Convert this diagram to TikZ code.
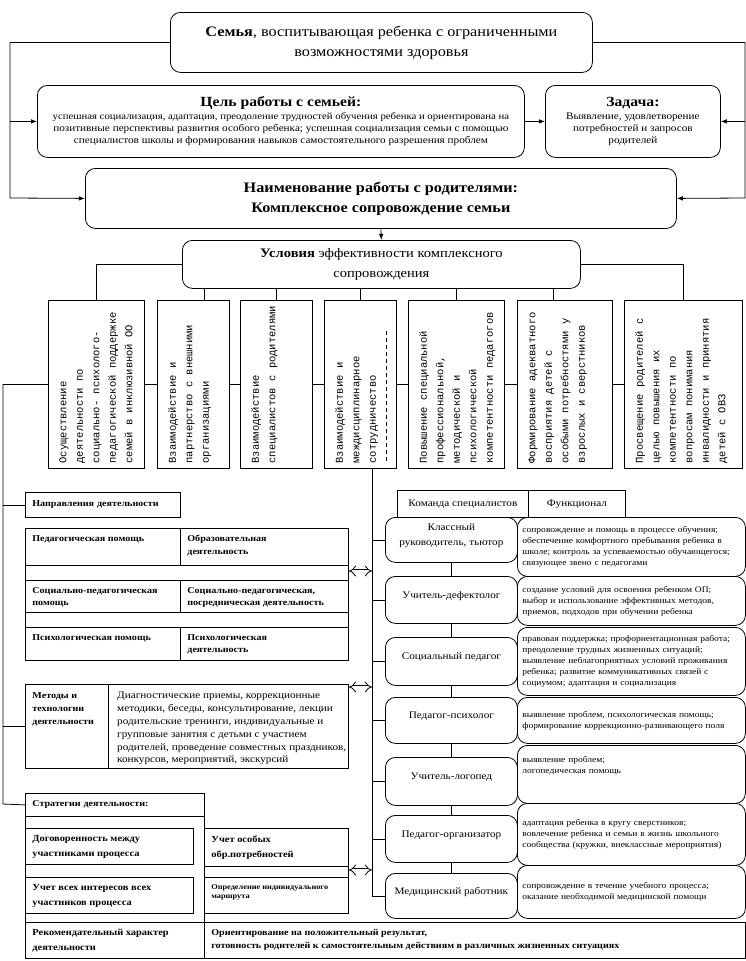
\documentclass[tikz,border=0pt]{standalone}
\usepackage{fontspec}
\setmainfont[FakeStretch=1.12]{Liberation Serif}
\newfontfamily\colfont{Liberation Mono}
\usetikzlibrary{arrows.meta}

\tikzset{
  rbox/.style={draw, rounded corners=10pt, anchor=north west, align=center, inner sep=3pt},
  sqbox/.style={draw, anchor=north west, inner sep=0pt},
  colbox/.style={draw, anchor=north west, minimum height=168, inner sep=0pt},
  coltext/.style={rotate=90, anchor=north west, align=left, inner xsep=5pt, inner ysep=11pt,
    font=\colfont\fontsize{10.5}{16.5}\selectfont},
  celltext/.style={anchor=north west, align=left, inner xsep=7pt, inner ysep=7pt,
    font=\fontsize{9}{12.5}\selectfont\bfseries},
  strattext/.style={celltext, font=\fontsize{9.3}{15}\selectfont\bfseries},
  headtext/.style={align=left, inner xsep=7pt, font=\fontsize{9}{12}\selectfont\bfseries},
  teamname/.style={rbox, minimum width=132, text depth=10pt, font=\fontsize{10}{15}\selectfont},
  teamjob/.style={rbox, minimum width=228, align=left, text width=218, inner xsep=5pt,
    font=\fontsize{8.5}{11}\selectfont},
  arr/.style={-{Latex[length=6pt,width=4.5pt]}},
  dblarr/.style={double, double distance=3pt, {Implies}-{Implies}},
}

\begin{document}
\begin{tikzpicture}[x=1pt, y=-1pt, line width=0.8pt]
\useasboundingbox (0,0) rectangle (746,961);

% top
\node[rbox, minimum width=422, minimum height=60, font=\fontsize{14.5}{20}\selectfont] (fam) at (170,12)
  {\textbf{Семья}, воспитывающая ребенка с ограниченными\\возможностями здоровья};
\node[rbox, minimum width=487, minimum height=72] (goal) at (37,85)
  {\fontsize{14}{18}\selectfont\bfseries Цель работы с семьей:\\[1pt]
   \fontsize{9.6}{12.5}\selectfont\mdseries
   успешная социализация, адаптация, преодоление трудностей обучения ребенка и  ориентирована на\\
   позитивные  перспективы развития особого ребенка; успешная  социализация семьи с помощью\\
   специалистов школы и  формирования навыков самостоятельного  разрешения проблем};
\node[rbox, minimum width=175, minimum height=72] (task) at (545,85)
  {\fontsize{14}{18}\selectfont\bfseries Задача:\\[1pt]
   \fontsize{10}{12.5}\selectfont\mdseries Выявление, удовлетворение\\потребностей и запросов\\родителей};
\node[rbox, minimum width=591, minimum height=60, font=\fontsize{14.5}{20}\selectfont\bfseries] (naim) at (85,168)
  {Наименование работы с родителями:\\Комплексное сопровождение семьи};
\node[rbox, minimum width=398, minimum height=48, font=\fontsize{13}{20}\selectfont] (cond) at (182,240)
  {\textbf{Условия} эффективности комплексного\\сопровождения};

\coordinate (lsp0) at (10,198);
\coordinate (rsp0) at (745,198);
\draw[arr] (fam.west) -| (lsp0) -- (naim.west);
\draw[arr] (fam.east) -| (rsp0) -- (naim.east);
\draw[arr] (goal.west -| lsp0) -- (goal.west);
\draw[arr] (task.east -| rsp0) -- (task.east);
\draw[arr] (goal.east) -- (task.west);
\draw[arr] (naim.south) -- (cond.north);

% columns
\node[colbox, minimum width=96, label={[coltext]south west:{Осуществление\\деятельности по\\социально- психолого-\\педагогической поддержке\\семей в инклюзивной ОО}}] (col1) at (48,300) {};
\node[colbox, minimum width=72, label={[coltext]south west:{Взаимодействие и\\партнерство с внешними\\организациями}}] (col2) at (157,300) {};
\node[colbox, minimum width=72, label={[coltext]south west:{Взаимодействие\\специалистов с родителями}}] (col3) at (240,300) {};
\node[colbox, minimum width=72, label={[coltext]south west:{Взаимодействие и\\междисциплинарное\\сотрудничество}}] (col4) at (324,300) {};
\node[colbox, minimum width=96, label={[coltext]south west:{Повышение специальной\\профессиональной,\\методической и\\психологической\\компетентности педагогов}}] (col5) at (408,300) {};
\node[colbox, minimum width=95, label={[coltext]south west:{Формирование адекватного\\восприятия детей с\\особыми потребностями у\\взрослых и сверстников}}] (col6) at (517,300) {};
\node[colbox, minimum width=118, label={[coltext]south west:{Просвещение родителей с\\целью повышения их\\компетентности по\\вопросам понимания\\инвалидности и принятия\\детей с ОВЗ}}] (col7) at (624,300) {};
\draw[dashed, dash pattern=on 4pt off 3pt] ([xshift=-10pt, yshift=8pt]col4.south east) -- ([xshift=-10pt, yshift=138pt]col4.south east);

\draw (cond.west) -| (col1.north);
\draw (cond.east) -| (col7.north);
\draw ([xshift=11pt]col2.north) -- ([xshift=11pt]col2.north |- cond.south);
\foreach \c in {col3,col4,col5}
  \draw (\c.north) -- (\c.north |- cond.south);
\draw ([xshift=-12pt]col6.north) -- ([xshift=-12pt]col6.north |- cond.south);
\foreach \a/\b in {col1/col2,col2/col3,col3/col4,col4/col5,col5/col6,col6/col7}
  \draw (\a.east) -- (\b.west);

% directions
\node[sqbox, minimum width=155, minimum height=25, text width=141, headtext] (dirh) at (25,492) {Направления деятельности};
\node[sqbox, minimum width=323, minimum height=132] (dtab) at (25,528) {};
\node[sqbox, minimum width=155, minimum height=37, label={[celltext]north west:{Педагогическая помощь}}] (d1a) at (25,528) {};
\node[sqbox, minimum width=168, minimum height=37, label={[celltext]north west:{Образовательная\\деятельность}}] (d1b) at (180,528) {};
\node[sqbox, minimum width=155, minimum height=32, label={[celltext]north west:{Социально-педагогическая\\помощь}}] (d2a) at (25,580) {};
\node[sqbox, minimum width=168, minimum height=32, label={[celltext]north west:{Социально-педагогическая,\\посредническая деятельность}}] (d2b) at (180,580) {};
\node[sqbox, minimum width=155, minimum height=33, label={[celltext]north west:{Психологическая помощь}}] (d3a) at (25,627) {};
\node[sqbox, minimum width=168, minimum height=33, label={[celltext]north west:{Психологическая\\деятельность}}] (d3b) at (180,627) {};

% methods
\node[sqbox, minimum width=323, minimum height=84] (meth) at (25,684) {};
\node[sqbox, minimum width=83, minimum height=84, label={[celltext, inner ysep=8pt, font=\fontsize{9}{13}\selectfont\bfseries]north west:{Методы и\\технологии\\деятельности}}] (methl) at (25,684) {};
\node[anchor=north west, align=left, inner xsep=8pt, inner ysep=8pt, font=\fontsize{10}{12.8}\selectfont] (methr) at (methl.north east)
  {Диагностические приемы, коррекционные\\методики, беседы, консультирование,  лекции\\родительские тренинги, индивидуальные и\\групповые занятия с детьми с участием\\родителей, проведение совместных праздников,\\конкурсов, мероприятий, экскурсий};

% strategies
\node[sqbox, minimum width=179, minimum height=23, text width=165, headtext] (strh) at (25,793) {Стратегии деятельности:};
\node[sqbox, minimum width=179, minimum height=106] (strfr) at (25,816) {};
\node[sqbox, minimum width=168, minimum height=36, label={[strattext]north west:{Договоренность между\\участниками процесса}}] (s1) at (25,828) {};
\node[sqbox, minimum width=168, minimum height=36, label={[strattext]north west:{Учет всех интересов всех\\участников процесса}}] (s2) at (25,877) {};
\node[sqbox, minimum width=144, minimum height=85] (srfr) at (204,828) {};
\node[sqbox, minimum width=144, minimum height=38, label={[strattext]north west:{Учет особых\\обр.потребностей}}] (sr1) at (204,828) {};
\node[sqbox, minimum width=144, minimum height=36, label={[strattext, font=\fontsize{7.4}{9.5}\selectfont\bfseries]north west:{Определение индивидуального\\маршрута}}] (sr2) at (204,877) {};
\node[sqbox, minimum width=179, minimum height=36, label={[strattext]north west:{Рекомендательный характер\\деятельности}}] (sb1) at (25,922) {};
\node[sqbox, minimum width=541, minimum height=36, label={[celltext]north west:{Ориентирование на положительный результат,\\готовность родителей к самостоятельным действиям в  различных жизненных ситуациях}}] (sb2) at (204,922) {};

\coordinate (lsp) at (3,804);
\draw (col1.west) -| (lsp) -- (strh.west);
\draw (dirh.west -| lsp) -- (dirh.west);
\draw (meth.west -| lsp) -- (meth.west);

% team
\node[sqbox, minimum width=131, minimum height=27, font=\fontsize{10}{12}\selectfont] (teamh) at (397,490) {Команда специалистов};
\node[sqbox, minimum width=97, minimum height=27, font=\fontsize{10}{12}\selectfont] (funch) at (528,490) {Функционал};

\node[teamname, minimum height=45] (t1) at (385,517) {Классный\\руководитель, тьютор};
\node[teamname, minimum height=47] (t2) at (385,576) {Учитель-дефектолог};
\node[teamname, minimum height=48] (t3) at (385,637) {Социальный педагог};
\node[teamname, minimum height=46] (t4) at (385,697) {Педагог-психолог};
\node[teamname, minimum height=48] (t5) at (385,757) {Учитель-логопед};
\node[teamname, minimum height=47] (t6) at (385,815) {Педагог-организатор};
\node[teamname, minimum height=45] (t7) at (385,873) {Медицинский работник};

\node[teamjob, minimum height=59] (f1) at (517,517) {сопровождение и помощь в процессе обучения;\\обеспечение комфортного пребывания ребенка в\\школе; контроль за успеваемостью обучающегося;\\связующее звено с педагогами};
\node[teamjob, minimum height=49] (f2) at (517,576) {создание условий для освоения ребенком ОП;\\выбор и использование эффективных  методов,\\приемов, подходов при обучении ребенка};
\node[teamjob, minimum height=68] (f3) at (517,627) {правовая поддержка; профориентационная работа;\\преодоление трудных жизненных ситуаций;\\выявление неблагоприятных условий проживания\\ребенка; развитие коммуникативных  связей с\\социумом; адаптация и социализация};
\node[teamjob, minimum height=46] (f4) at (517,697) {выявление проблем, психологическая помощь;\\формирование коррекционно-развивающего поля};
\node[teamjob, minimum height=58, text depth=30pt] (f5) at (517,745) {выявление  проблем;\\логопедическая помощь};
\node[teamjob, minimum height=62] (f6) at (517,803) {адаптация ребенка в кругу сверстников;\\вовлечение ребенка и семьи в жизнь школьного\\сообщества (кружки, внеклассные  мероприятия)};
\node[teamjob, minimum height=53, text depth=12pt] (f7) at (517,865) {сопровождение в течение учебного процесса;\\оказание необходимой медицинской помощи};

\coordinate (rsp) at ([xshift=12pt]col4.south);
\draw (rsp) |- (t7.west);
\foreach \t in {t1,t2,t3,t4,t5,t6}
  \draw (\t.west -| rsp) -- (\t.west);
\foreach \a/\b in {t1/t2,t2/t3,t3/t4,t4/t5,t5/t6,t6/t7}
  \draw (\a.south) -- (\b.north);

\coordinate (da1) at (372,571);
\coordinate (da2) at (372,687);
\coordinate (da3) at (372,870);
\draw[dblarr] (da1 -| dtab.east) -- (da1);
\draw[dblarr] (da2 -| meth.east) -- (da2);
\draw[dblarr] (da3 -| srfr.east) -- (da3);
\end{tikzpicture}
\end{document}
